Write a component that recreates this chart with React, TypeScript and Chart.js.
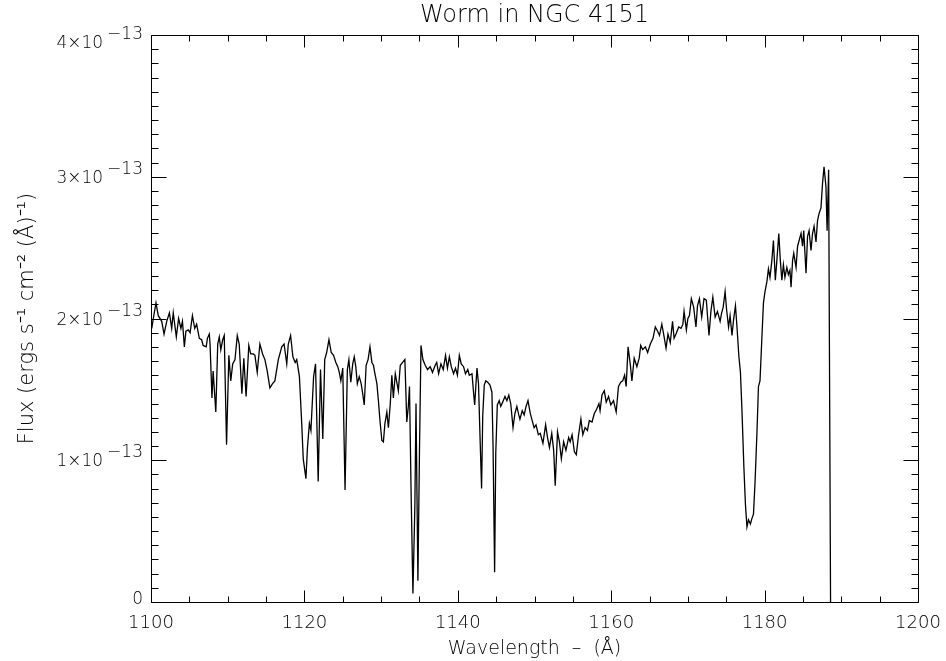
import React, { useEffect, useRef } from 'react';
import { Chart, registerables } from 'chart.js';

Chart.register(...registerables);

const TITLE = 'Worm in NGC 4151';
const X_TITLE = 'Wavelength  –  (Å)';
const Y_TITLE = 'Flux (ergs s⁻¹ cm⁻² (Å)⁻¹)';

const X_MIN = 1100;
const X_MAX = 1200;
const X_TICKS = [1100, 1120, 1140, 1160, 1180, 1200];
const X_MINOR_STEP = 5;

// flux in units of 1e-13 ergs s^-1 cm^-2 A^-1
const Y_MIN = 0;
const Y_MAX = 4;
const Y_TICKS = [0, 1, 2, 3, 4];
const Y_TICK_BASE = ['0', '1×10', '2×10', '3×10', '4×10'];
const Y_TICK_EXP = ['', '−13', '−13', '−13', '−13'];
const Y_MINOR_STEP = 0.1;

const WAVELENGTH = [
  1100.1, 1100.3, 1100.65, 1100.95, 1101.4, 1101.7, 1102.05, 1102.4, 1102.7, 1102.9,
  1103.3, 1103.6, 1103.9, 1104.1, 1104.35, 1104.55, 1104.85, 1105.1, 1105.4, 1105.7,
  1105.95, 1106.3, 1106.6, 1106.8, 1107.2, 1107.35, 1107.6, 1107.7, 1107.95, 1108.1,
  1108.45, 1108.7, 1108.9, 1109.1, 1109.35, 1109.55, 1109.85, 1110.15, 1110.4, 1110.65,
  1110.95, 1111.25, 1111.5, 1111.85, 1112.1, 1112.4, 1112.75, 1113.0, 1113.35, 1113.55,
  1113.85, 1114.2, 1114.55, 1114.85, 1115.15, 1115.5, 1115.85, 1116.15, 1116.6, 1117.05,
  1117.35, 1117.7, 1117.9, 1118.2, 1118.5, 1118.8, 1119.0, 1119.35, 1119.65, 1119.85,
  1120.2, 1120.4, 1120.65, 1120.85, 1121.2, 1121.45, 1121.8, 1122.1, 1122.4, 1122.65,
  1122.9, 1123.2, 1123.5, 1123.8, 1124.1, 1124.35, 1124.55, 1124.75, 1125.0, 1125.3,
  1125.6, 1125.8, 1126.05, 1126.3, 1126.5, 1126.7, 1126.9, 1127.15, 1127.4, 1127.6,
  1127.8, 1128.05, 1128.3, 1128.55, 1128.8, 1129.0, 1129.2, 1129.45, 1129.65, 1129.85,
  1130.1, 1130.3, 1130.5, 1130.75, 1130.95, 1131.2, 1131.4, 1131.6, 1131.85, 1132.05,
  1132.25, 1132.5, 1132.8, 1133.1, 1133.35, 1133.55, 1133.7, 1133.9, 1134.15, 1134.4,
  1134.55, 1134.8, 1135.0, 1135.2, 1135.45, 1135.75, 1136.05, 1136.4, 1136.7, 1137.05,
  1137.25, 1137.5, 1137.8, 1138.1, 1138.4, 1138.65, 1138.9, 1139.15, 1139.45, 1139.7,
  1139.95, 1140.2, 1140.45, 1140.75, 1141.0, 1141.3, 1141.5, 1141.85, 1142.05, 1142.2,
  1142.5, 1142.7, 1142.9, 1143.1, 1143.25, 1143.45, 1143.65, 1143.9, 1144.2, 1144.45,
  1144.6, 1144.8, 1144.95, 1145.15, 1145.4, 1145.6, 1145.85, 1146.15, 1146.4, 1146.65,
  1146.9, 1147.2, 1147.45, 1147.7, 1147.95, 1148.1, 1148.4, 1148.65, 1148.9, 1149.15,
  1149.45, 1149.7, 1149.95, 1150.2, 1150.5, 1150.75, 1151.1, 1151.45, 1151.7, 1151.95,
  1152.25, 1152.5, 1152.7, 1153.0, 1153.25, 1153.5, 1153.8, 1154.1, 1154.45, 1154.65,
  1154.9, 1155.2, 1155.45, 1155.75, 1156.05, 1156.3, 1156.6, 1156.9, 1157.15, 1157.5,
  1157.8, 1158.1, 1158.4, 1158.55, 1158.8, 1159.1, 1159.35, 1159.65, 1159.95, 1160.3,
  1160.65, 1160.95, 1161.25, 1161.5, 1161.75, 1161.95, 1162.2, 1162.5, 1162.7, 1163.0,
  1163.35, 1163.65, 1163.85, 1164.1, 1164.45, 1164.75, 1165.1, 1165.45, 1165.75, 1166.05,
  1166.3, 1166.6, 1166.9, 1167.15, 1167.4, 1167.7, 1168.0, 1168.2, 1168.45, 1168.8,
  1169.1, 1169.35, 1169.5, 1169.8, 1170.0, 1170.2, 1170.45, 1170.75, 1171.05, 1171.25,
  1171.5, 1171.8, 1172.1, 1172.4, 1172.75, 1173.0, 1173.25, 1173.55, 1173.85, 1174.2,
  1174.4, 1174.6, 1174.85, 1175.05, 1175.3, 1175.5, 1175.75, 1175.95, 1176.2, 1176.4,
  1176.65, 1176.85, 1177.05, 1177.3, 1177.5, 1177.7, 1177.9, 1178.15, 1178.35, 1178.55,
  1178.75, 1179.0, 1179.2, 1179.4, 1179.65, 1179.85, 1180.05, 1180.3, 1180.5, 1180.7,
  1180.95, 1181.15, 1181.4, 1181.6, 1181.85, 1182.05, 1182.25, 1182.45, 1182.65, 1182.9,
  1183.1, 1183.3, 1183.45, 1183.65, 1183.8, 1184.1, 1184.3, 1184.5, 1184.75, 1184.95,
  1185.1, 1185.4, 1185.6, 1185.8, 1186.05, 1186.25, 1186.45, 1186.7, 1186.9, 1187.1,
  1187.35, 1187.55, 1187.75, 1188.0, 1188.15, 1188.35, 1188.6
];

const FLUX = [
  1.93, 2.00, 2.11, 2.02, 1.98, 1.89, 1.98, 2.04, 1.93, 2.04,
  1.87, 2.00, 1.93, 1.98, 1.80, 1.91, 1.92, 1.90, 2.02, 1.93,
  1.96, 1.86, 1.85, 1.81, 1.80, 1.86, 1.89, 1.82, 1.44, 1.63,
  1.34, 1.82, 1.87, 1.78, 1.85, 1.88, 1.11, 1.74, 1.56, 1.68,
  1.71, 1.88, 1.82, 1.47, 1.72, 1.45, 1.81, 1.75, 1.75, 1.74,
  1.62, 1.82, 1.75, 1.71, 1.63, 1.51, 1.54, 1.56, 1.71, 1.80,
  1.82, 1.68, 1.82, 1.88, 1.73, 1.69, 1.71, 1.59, 1.26, 1.01,
  0.87, 1.09, 1.26, 1.21, 1.59, 1.68, 0.85, 1.64, 1.15, 1.71,
  1.76, 1.85, 1.76, 1.74, 1.69, 1.66, 1.62, 1.56, 1.65, 0.79,
  1.64, 1.71, 1.55, 1.68, 1.73, 1.66, 1.54, 1.59, 1.54, 1.47,
  1.39, 1.67, 1.71, 1.80, 1.69, 1.67, 1.61, 1.54, 1.42, 1.28,
  1.14, 1.13, 1.26, 1.34, 1.23, 1.40, 1.60, 1.44, 1.61, 1.55,
  1.49, 1.67, 1.69, 1.71, 1.27, 1.38, 1.52, 0.81, 0.06, 0.67,
  1.40, 0.15, 1.05, 1.81, 1.71, 1.67, 1.64, 1.66, 1.62, 1.67,
  1.69, 1.61, 1.68, 1.64, 1.74, 1.65, 1.73, 1.66, 1.61, 1.65,
  1.60, 1.74, 1.68, 1.66, 1.61, 1.64, 1.60, 1.61, 1.48, 1.39,
  1.65, 1.54, 1.16, 0.80, 1.31, 1.53, 1.56, 1.55, 1.53, 1.48,
  1.09, 0.21, 1.05, 1.39, 1.42, 1.38, 1.41, 1.45, 1.42, 1.46,
  1.40, 1.23, 1.33, 1.38, 1.32, 1.29, 1.35, 1.32, 1.38, 1.42,
  1.33, 1.28, 1.23, 1.25, 1.18, 1.19, 1.12, 1.25, 1.16, 1.09,
  1.19, 1.07, 0.82, 1.20, 1.13, 1.01, 1.13, 1.07, 1.16, 1.13,
  1.18, 1.06, 1.04, 1.18, 1.29, 1.18, 1.23, 1.21, 1.28, 1.27,
  1.33, 1.36, 1.40, 1.35, 1.46, 1.49, 1.41, 1.45, 1.39, 1.42,
  1.34, 1.52, 1.55, 1.56, 1.60, 1.52, 1.80, 1.67, 1.56, 1.72,
  1.66, 1.72, 1.81, 1.78, 1.80, 1.76, 1.82, 1.86, 1.94, 1.91,
  1.88, 1.96, 1.87, 1.79, 1.89, 1.83, 1.98, 1.86, 1.89, 1.94,
  1.93, 1.96, 2.05, 1.92, 2.00, 2.02, 2.14, 2.08, 1.94, 2.09,
  2.14, 2.01, 2.14, 2.13, 1.88, 2.05, 2.15, 2.01, 2.05, 1.98,
  2.04, 2.08, 2.19, 2.06, 1.94, 2.02, 1.88, 1.99, 2.09, 1.94,
  1.73, 1.62, 1.35, 0.95, 0.69, 0.53, 0.58, 0.55, 0.59, 0.62,
  0.84, 1.19, 1.52, 1.56, 1.87, 2.11, 2.19, 2.26, 2.35, 2.29,
  2.41, 2.55, 2.27, 2.41, 2.60, 2.41, 2.27, 2.38, 2.29, 2.36,
  2.31, 2.34, 2.22, 2.41, 2.46, 2.36, 2.51, 2.55, 2.60, 2.51,
  2.62, 2.32, 2.58, 2.62, 2.48, 2.60, 2.65, 2.54, 2.69, 2.74,
  2.78, 2.95, 3.07, 2.93, 2.62, 3.05, 0.0
];

const FONT = '"DejaVu Sans", sans-serif';
const WEIGHT = '200';

const framePlugin = {
  id: 'idlFrame',
  afterDraw(chart: any) {
    const ctx = chart.ctx;
    const { left, right, top, bottom } = chart.chartArea;
    const xs = chart.scales.x;
    const ys = chart.scales.y;
    ctx.save();
    ctx.strokeStyle = '#000';
    ctx.lineWidth = 1;
    const L = Math.round(left) + 0.5;
    const R = Math.round(right) + 0.5;
    const T = Math.round(top) + 0.5;
    const B = Math.round(bottom) + 0.5;
    ctx.beginPath();
    ctx.rect(L, T, R - L, B - T);
    for (let v = X_MIN; v <= X_MAX + 1e-9; v += X_MINOR_STEP) {
      const px = Math.round(xs.getPixelForValue(v)) + 0.5;
      const len = v % 20 === 0 ? 12 : 6;
      ctx.moveTo(px, B);
      ctx.lineTo(px, B - len);
      ctx.moveTo(px, T);
      ctx.lineTo(px, T + len);
    }
    for (let k = 0; k <= Math.round((Y_MAX - Y_MIN) / Y_MINOR_STEP); k++) {
      const v = Y_MIN + k * Y_MINOR_STEP;
      const py = Math.round(ys.getPixelForValue(v)) + 0.5;
      const len = k % 10 === 0 ? 15 : 7;
      ctx.moveTo(L, py);
      ctx.lineTo(L + len, py);
      ctx.moveTo(R, py);
      ctx.lineTo(R - len, py);
    }
    ctx.stroke();

    ctx.fillStyle = '#000';
    ctx.font = `${WEIGHT} 17px ${FONT}`;
    ctx.textBaseline = 'alphabetic';
    ctx.textAlign = 'left';
    const xRight = left - 8;
    Y_TICKS.forEach((v, i) => {
      let py = ys.getPixelForValue(v);
      if (i === Y_TICKS.length - 1) py += 7;
      if (i === 0) py -= 4.5;
      const base = Y_TICK_BASE[i];
      const exp = Y_TICK_EXP[i];
      const expW = exp ? ctx.measureText(exp).width : 0;
      const baseW = ctx.measureText(base).width;
      const gap = exp ? 4 : 0;
      const baseline = py + 6;
      ctx.fillText(base, xRight - expW - gap - baseW, baseline);
      if (exp) ctx.fillText(exp, xRight - expW, baseline - 9);
    });
    ctx.restore();
  }
};

export default function App() {
  const canvasRef = useRef<HTMLCanvasElement | null>(null);

  useEffect(() => {
    const canvas = canvasRef.current;
    if (!canvas) return;
    const points = WAVELENGTH.map((x, i) => ({ x, y: FLUX[i] }));
    const chart = new Chart(canvas, {
      type: 'line',
      data: {
        datasets: [
          {
            data: points,
            borderColor: '#000',
            borderWidth: 1.3,
            pointRadius: 0,
            tension: 0,
            fill: false,
          },
        ],
      },
      options: {
        animation: false,
        responsive: false,
        devicePixelRatio: 1,
        layout: { padding: { left: 0, right: 28, top: 0, bottom: 0 } },
        plugins: {
          legend: { display: false },
          tooltip: { enabled: false },
          title: {
            display: true,
            text: TITLE,
            fullSize: false,
            color: '#000',
            font: { family: FONT, size: 24, weight: WEIGHT },
            padding: { top: 1, bottom: 5.2 },
          },
        },
        scales: {
          x: {
            type: 'linear',
            min: X_MIN,
            max: X_MAX,
            grid: { display: false, drawTicks: false },
            border: { display: false },
            afterBuildTicks: (s: any) => {
              s.ticks = X_TICKS.map((v) => ({ value: v }));
            },
            afterFit: (s: any) => {
              s.height = 59;
              s.paddingLeft = 0;
              s.paddingRight = 0;
            },
            ticks: {
              autoSkip: false,
              maxRotation: 0,
              padding: 11,
              color: '#000',
              font: { family: FONT, size: 18, weight: WEIGHT },
              callback: (v: any) => String(v),
            },
            title: {
              display: true,
              text: X_TITLE,
              color: '#000',
              font: { family: FONT, size: 19, weight: WEIGHT },
              padding: { top: 0, bottom: 1 },
            },
          },
          y: {
            type: 'linear',
            min: Y_MIN,
            max: Y_MAX,
            grid: { display: false, drawTicks: false },
            border: { display: false },
            ticks: { display: false },
            afterFit: (s: any) => {
              s.width = 151;
            },
            title: {
              display: true,
              text: Y_TITLE,
              color: '#000',
              font: { family: FONT, size: 21, weight: WEIGHT },
              padding: { top: 15, bottom: 0 },
            },
          },
        },
      },
      plugins: [framePlugin],
    });
    return () => chart.destroy();
  }, []);

  return (
    <div style={{ position: 'absolute', left: 0, top: 0, width: 946, height: 661, background: '#fff' }}>
      <canvas ref={canvasRef} width={946} height={661} style={{ display: 'block', width: 946, height: 661 }} />
    </div>
  );
}
